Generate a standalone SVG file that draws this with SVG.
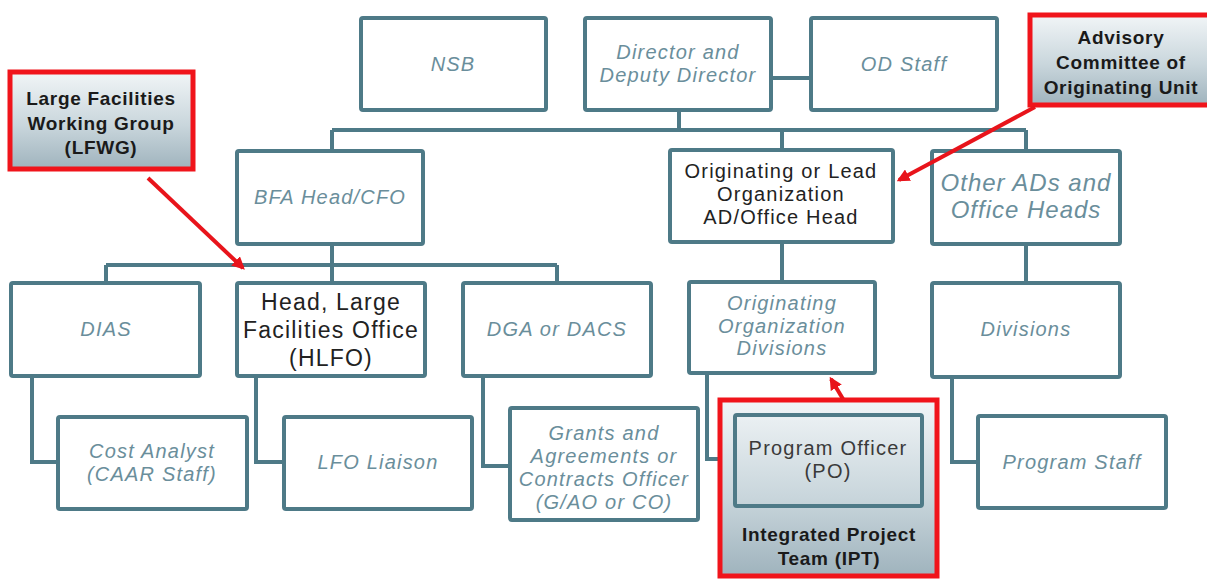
<svg xmlns="http://www.w3.org/2000/svg" width="1207" height="579" viewBox="0 0 1207 579">
<defs>
<linearGradient id="g" x1="0" y1="0" x2="0" y2="1">
<stop offset="0" stop-color="#f1f5f7"/>
<stop offset="0.55" stop-color="#c9d6dc"/>
<stop offset="1" stop-color="#9fb3bd"/>
</linearGradient>
<marker id="ah" viewBox="0 0 10 10" refX="8" refY="5" markerWidth="3.2" markerHeight="3.2" orient="auto" markerUnits="strokeWidth">
<path d="M0,0 L10,5 L0,10 z" fill="#e8141b"/>
</marker>
<style>
.b{fill:#fff;stroke:#4e7a87;stroke-width:4}
.r{fill:url(#g);stroke:#f0141b;stroke-width:5}
.c{fill:none;stroke:#4e7a87;stroke-width:4}
.ra{fill:none;stroke:#e8141b;stroke-width:4;marker-end:url(#ah)}
.t{font-family:"Liberation Sans",Arial,sans-serif;font-style:italic;fill:#6a8e9b;text-anchor:middle;font-size:20px;letter-spacing:1.2px}
.k{font-family:"Liberation Sans",Arial,sans-serif;fill:#222;text-anchor:middle;font-size:20px;letter-spacing:1.2px}
.bk{font-family:"Liberation Sans",Arial,sans-serif;font-weight:bold;fill:#1a1a1a;text-anchor:middle;font-size:19px;letter-spacing:0.7px}
</style>
</defs>
<g id="connectors">
<path class="c" d="M771,78 H811"/>
<path class="c" d="M679,109 V130 M332,130 H1026 M332,130 V151 M782,130 V150 M1026,130 V151"/>
<path class="c" d="M332,244 V265 M106,265 H557 M106,265 V283 M332,265 V283 M557,265 V283"/>
<path class="c" d="M782,242 V282 M1026,244 V283"/>
<path class="c" d="M32,376 V462 H58 M256,376 V462 H284 M483,376 V466 H510 M707,373 V459 H735 M952,377 V462 H978"/>
</g>
<g id="nsb"><rect class="b" x="361" y="18" width="185" height="92" rx="2"/><text class="t" x="453" y="71">NSB</text></g>
<g id="director"><rect class="b" x="585" y="18" width="186" height="92" rx="2"/><text class="t" x="678" y="59">Director and</text><text class="t" x="678" y="82">Deputy Director</text></g>
<g id="odstaff"><rect class="b" x="811" y="18" width="186" height="92" rx="2"/><text class="t" x="904" y="71">OD Staff</text></g>
<g id="bfa"><rect class="b" x="237" y="151" width="186" height="93" rx="2"/><text class="t" x="330" y="204">BFA Head/CFO</text></g>
<g id="orig"><rect class="b" x="670" y="150" width="223" height="92" rx="2"/><text class="k" x="781" y="178">Originating or Lead</text><text class="k" x="781" y="201">Organization</text><text class="k" x="781" y="224">AD/Office Head</text></g>
<g id="otherads"><rect class="b" x="932" y="151" width="188" height="93" rx="2"/><text class="t" x="1026" y="191" style="font-size:24px;letter-spacing:1px">Other ADs and</text><text class="t" x="1026" y="218" style="font-size:24px;letter-spacing:1px">Office Heads</text></g>
<g id="dias"><rect class="b" x="11" y="283" width="189" height="93" rx="2"/><text class="t" x="106" y="336">DIAS</text></g>
<g id="hlfo"><rect class="b" x="237" y="283" width="188" height="93" rx="2"/><text class="k" x="331" y="310" style="font-size:23px">Head, Large</text><text class="k" x="331" y="338" style="font-size:23px">Facilities Office</text><text class="k" x="331" y="366" style="font-size:23px">(HLFO)</text></g>
<g id="dga"><rect class="b" x="463" y="283" width="188" height="93" rx="2"/><text class="t" x="557" y="336">DGA or DACS</text></g>
<g id="origdiv"><rect class="b" x="689" y="282" width="186" height="91" rx="2"/><text class="t" x="782" y="310">Originating</text><text class="t" x="782" y="333">Organization</text><text class="t" x="782" y="355">Divisions</text></g>
<g id="divisions"><rect class="b" x="932" y="283" width="188" height="94" rx="2"/><text class="t" x="1026" y="336">Divisions</text></g>
<g id="cost"><rect class="b" x="58" y="417" width="189" height="92" rx="2"/><text class="t" x="152" y="458">Cost Analyst</text><text class="t" x="152" y="481">(CAAR Staff)</text></g>
<g id="lfo"><rect class="b" x="284" y="417" width="188" height="92" rx="2"/><text class="t" x="378" y="469">LFO Liaison</text></g>
<g id="grants"><rect class="b" x="510" y="408" width="188" height="112" rx="2"/><text class="t" x="604" y="440">Grants and</text><text class="t" x="604" y="463">Agreements or</text><text class="t" x="604" y="486">Contracts Officer</text><text class="t" x="604" y="509">(G/AO or CO)</text></g>
<g id="programstaff"><rect class="b" x="978" y="416" width="188" height="92" rx="2"/><text class="t" x="1072" y="469">Program Staff</text></g>
<g id="ipt"><rect class="r" x="720" y="400" width="217" height="176"/><text class="bk" x="829" y="541">Integrated Project</text><text class="bk" x="829" y="565">Team (IPT)</text></g>
<g id="po"><rect class="b" x="735" y="415" width="187" height="91" rx="2" style="fill:none"/><text class="k" x="828" y="455" style="fill:#3a3a3a">Program Officer</text><text class="k" x="828" y="478" style="fill:#3a3a3a">(PO)</text></g>
<g id="lfwg"><rect class="r" x="10" y="72" width="183" height="97"/><text class="bk" x="101" y="105">Large Facilities</text><text class="bk" x="101" y="130">Working Group</text><text class="bk" x="101" y="154">(LFWG)</text></g>
<g id="advisory"><rect class="r" x="1030" y="15" width="180" height="90"/><text class="bk" x="1121" y="44">Advisory</text><text class="bk" x="1121" y="69">Committee of</text><text class="bk" x="1121" y="94">Originating Unit</text></g>
<g id="red-arrows">
<path class="ra" d="M148,178 L243,268"/>
<path class="ra" d="M1035,107 L899,180"/>
<path class="ra" d="M843,399 L831,379"/>
</g>
</svg>
